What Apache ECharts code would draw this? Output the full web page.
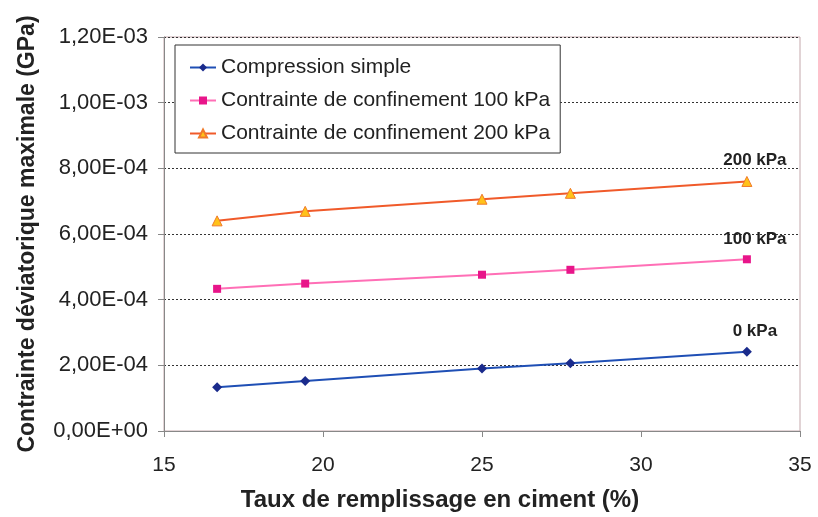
<!DOCTYPE html>
<html><head><meta charset="utf-8">
<script src="https://cdn.jsdelivr.net/npm/echarts@6/dist/echarts.min.js"></script>
<style>html,body{margin:0;padding:0;background:#fff}#c{width:818px;height:517px}</style>
</head><body><div id="c"></div>
<script>
const xValues = [16.67, 19.44, 25, 27.78, 33.33];
const simple = [1.33e-4, 1.52e-4, 1.90e-4, 2.06e-4, 2.41e-4];
const conf100 = [4.33e-4, 4.49e-4, 4.76e-4, 4.91e-4, 5.23e-4];
const conf200 = [6.40e-4, 6.69e-4, 7.06e-4, 7.24e-4, 7.60e-4];
const seriesNames = ['Compression simple', 'Contrainte de confinement 100 kPa', 'Contrainte de confinement 200 kPa'];
const endLabels = ['0 kPa', '100 kPa', '200 kPa'];

function fmt(v){
  let s = Number(v).toExponential(2);
  let [m, e] = s.split('e');
  let sign = e[0] === '-' ? '-' : '+';
  let d = e.replace(/^[+-]/, '');
  if (d.length < 2) d = '0' + d;
  return m.replace('.', ',') + 'E' + sign + d;
}
function build(vals, idx){
  return vals.map((v, i) => {
    const item = { value: [xValues[i], v] };
    if (i === vals.length - 1) {
      item.label = { show: true, formatter: endLabels[idx], position: 'top', offset: [8, -2],
        fontFamily: 'Liberation Sans', fontWeight: 'bold', fontSize: 17, color: '#222' };
    }
    return item;
  });
}
const chart = echarts.init(document.getElementById('c'));
chart.setOption({
  animation: false,
  backgroundColor: '#fff',
  grid: { left: 164, right: 18, top: 37, bottom: 84, show: true, borderColor: '#c4a8ac', borderWidth: 1 },
  legend: {
    orient: 'vertical', left: 175, top: 45,
    borderColor: '#333', borderWidth: 1, backgroundColor: '#fff',
    padding: [12, 10, 9, 14], itemGap: 12, itemWidth: 26, itemHeight: 10,
    textStyle: { fontFamily: 'Liberation Sans', fontSize: 21, color: '#222' },
    data: seriesNames
  },
  xAxis: {
    type: 'value', min: 15, max: 35, interval: 5,
    name: 'Taux de remplissage en ciment (%)', nameLocation: 'middle', nameGap: 57,
    nameTextStyle: { fontFamily: 'Liberation Sans', fontWeight: 'bold', fontSize: 24, color: '#222', padding: [0, 84, 0, 0] },
    axisLine: { lineStyle: { color: '#888' } },
    axisTick: { show: true, length: 6, lineStyle: { color: '#888' } },
    axisLabel: { fontFamily: 'Liberation Sans', fontSize: 21, color: '#222', margin: 24 },
    splitLine: { show: false }
  },
  yAxis: {
    type: 'value', min: 0, max: 1.2e-3, interval: 2e-4,
    name: 'Contrainte déviatorique maximale (GPa)', nameLocation: 'middle', nameGap: 125,
    nameTextStyle: { fontFamily: 'Liberation Sans', fontWeight: 'bold', fontSize: 23, color: '#222' },
    axisLine: { show: true, lineStyle: { color: '#888' } },
    axisTick: { show: true, length: 6, lineStyle: { color: '#888' } },
    axisLabel: { fontFamily: 'Liberation Sans', fontSize: 22, color: '#222', margin: 16, formatter: fmt },
    splitLine: { show: true, lineStyle: { color: '#333', type: [2, 2], width: 1 } }
  },
  series: [
    { name: seriesNames[0], type: 'line', data: build(simple, 0), symbol: 'diamond', symbolSize: 10,
      lineStyle: { color: '#1f4fb5', width: 2 }, itemStyle: { color: '#1a2b8c' } },
    { name: seriesNames[1], type: 'line', data: build(conf100, 1), symbol: 'rect', symbolSize: 8,
      lineStyle: { color: '#ff6fb6', width: 2 }, itemStyle: { color: '#e8158a' } },
    { name: seriesNames[2], type: 'line', data: build(conf200, 2), symbol: 'triangle', symbolSize: 10,
      lineStyle: { color: '#f05a2a', width: 2 }, itemStyle: { color: '#ffc21a', borderColor: '#f07a2a', borderWidth: 1 } }
  ]
});
</script></body></html>
